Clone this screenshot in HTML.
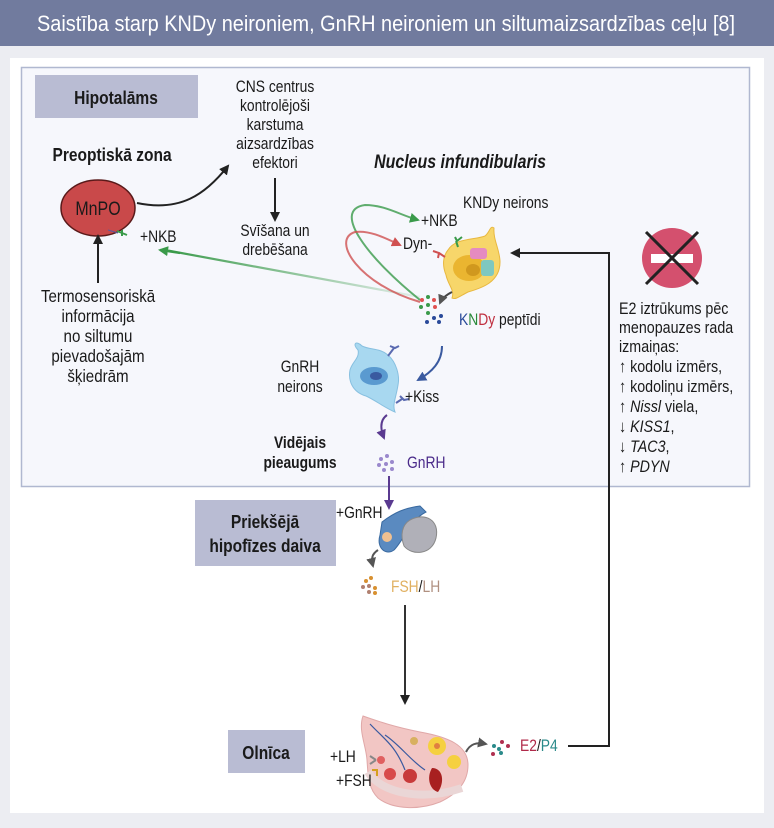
<!DOCTYPE html>
<html><head><meta charset="utf-8"><style>
html,body{margin:0;padding:0;background:#ecedf2;}
svg{display:block;}
text{font-family:"Liberation Sans",sans-serif;fill:#1a1a1a;transform-box:fill-box;transform:scaleX(.84);}
text.m{transform-origin:center;}
text.l{transform-origin:left;}
.b{font-weight:bold;}
</style></head><body>
<svg width="774" height="828" viewBox="0 0 774 828" xmlns="http://www.w3.org/2000/svg">
<defs>
<marker id="ak" markerWidth="10" markerHeight="10" refX="8" refY="5" orient="auto" markerUnits="userSpaceOnUse"><path d="M0,0 L10,5 L0,10 Z" fill="#222"/></marker>
<marker id="ag" markerWidth="10" markerHeight="10" refX="8" refY="5" orient="auto" markerUnits="userSpaceOnUse"><path d="M0,0 L10,5 L0,10 Z" fill="#3a9a4a"/></marker>
<marker id="ar" markerWidth="10" markerHeight="10" refX="8" refY="5" orient="auto" markerUnits="userSpaceOnUse"><path d="M0,0 L10,5 L0,10 Z" fill="#d05050"/></marker>
<marker id="ab" markerWidth="10" markerHeight="10" refX="8" refY="5" orient="auto" markerUnits="userSpaceOnUse"><path d="M0,0 L10,5 L0,10 Z" fill="#3a5aa0"/></marker>
<marker id="ap" markerWidth="10" markerHeight="10" refX="8" refY="5" orient="auto" markerUnits="userSpaceOnUse"><path d="M0,0 L10,5 L0,10 Z" fill="#5a3a90"/></marker>
<marker id="ay" markerWidth="10" markerHeight="10" refX="8" refY="5" orient="auto" markerUnits="userSpaceOnUse"><path d="M0,0 L10,5 L0,10 Z" fill="#555"/></marker>
<linearGradient id="gg" x1="1" x2="0"><stop offset="0" stop-color="#3a9a4a" stop-opacity="0.1"/><stop offset="1" stop-color="#3a9a4a"/></linearGradient>
</defs>
<rect x="0" y="0" width="774" height="46" fill="#717b9e"/>
<text class="m" x="386" y="31" font-size="22" text-anchor="middle" style="fill:#fff;transform:none" textLength="698" lengthAdjust="spacingAndGlyphs">Saistība starp KNDy neironiem, GnRH neironiem un siltumaizsardzības ceļu [8]</text>
<rect x="10" y="58" width="754" height="755" fill="#fff"/>
<rect x="21.5" y="67.5" width="728" height="419" fill="#f6f7fc" stroke="#b0b8d0" stroke-width="1.5"/>

<rect x="35" y="75" width="163" height="43" fill="#b9bcd3"/>
<text class="m b" x="116" y="104" font-size="18.5" text-anchor="middle">Hipotalāms</text>
<rect x="195" y="500" width="141" height="66" fill="#b9bcd3"/>
<text class="m b" x="265" y="528" font-size="18.5" text-anchor="middle">Priekšējā</text>
<text class="m b" x="265" y="552" font-size="18.5" text-anchor="middle">hipofīzes daiva</text>
<rect x="228" y="730" width="77" height="43" fill="#b9bcd3"/>
<text class="m b" x="266" y="759" font-size="18.5" text-anchor="middle">Olnīca</text>

<g font-size="16.5" text-anchor="middle">
<text class="m" x="275" y="92">CNS centrus</text>
<text class="m" x="275" y="111">kontrolējoši</text>
<text class="m" x="275" y="130">karstuma</text>
<text class="m" x="275" y="149">aizsardzības</text>
<text class="m" x="275" y="168">efektori</text>
<text class="m" x="275" y="236">Svīšana un</text>
<text class="m" x="275" y="255">drebēšana</text>
<text class="m" x="98" y="302" font-size="18">Termosensoriskā</text>
<text class="m" x="98" y="322" font-size="18">informācija</text>
<text class="m" x="98" y="342" font-size="18">no siltumu</text>
<text class="m" x="98" y="362" font-size="18">pievadošajām</text>
<text class="m" x="98" y="382" font-size="18">šķiedrām</text>
<text class="m" x="300" y="372">GnRH</text>
<text class="m" x="300" y="392">neirons</text>
</g>
<text class="m b" x="112" y="161" font-size="18.5" text-anchor="middle">Preoptiskā zona</text>
<text class="m b" x="460" y="168" font-size="19" font-style="italic" text-anchor="middle">Nucleus infundibularis</text>
<text class="m b" x="300" y="448" font-size="16.5" text-anchor="middle">Vidējais</text>
<text class="m b" x="300" y="468" font-size="16.5" text-anchor="middle">pieaugums</text>

<!-- MnPO -->
<ellipse cx="98" cy="208" rx="37" ry="28" fill="#c9494a" stroke="#5a1a1a" stroke-width="1.5"/>
<text class="m" x="98" y="215" font-size="19" text-anchor="middle">MnPO</text>
<path d="M137,203 C180,212 205,195 228,166" fill="none" stroke="#222" stroke-width="2" marker-end="url(#ak)"/>
<line x1="275" y1="178" x2="275" y2="220" stroke="#222" stroke-width="2" marker-end="url(#ak)"/>
<line x1="98" y1="283" x2="98" y2="236" stroke="#222" stroke-width="2" marker-end="url(#ak)"/>
<path d="M117,231 l10,4 M122,230 v6" stroke="#3a9a4a" stroke-width="2" fill="none"/>
<line x1="108" y1="230" x2="118" y2="233" stroke="#5a5aa0" stroke-width="1"/>
<text class="l" x="140" y="242" font-size="16.5">+NKB</text>
<path d="M420,297 L165,250" stroke="url(#gg)" stroke-width="2.2" fill="none"/>
<path d="M180,253 L160,250" stroke="#3a9a4a" stroke-width="2.2" marker-end="url(#ag)"/>

<!-- KNDy loops -->
<path d="M420,300 C370,260 330,210 365,205 C385,205 400,215 418,220" fill="none" stroke="#3a9a4a" stroke-width="2" stroke-opacity="0.8" marker-end="url(#ag)"/>
<path d="M420,302 C360,285 330,240 355,232 C370,230 385,238 400,245" fill="none" stroke="#d05050" stroke-width="2" stroke-opacity="0.8" marker-end="url(#ar)"/>
<text class="l" x="421" y="226" font-size="16.5">+NKB</text>
<text class="l" x="403" y="249" font-size="16.5">Dyn-</text>
<text class="l" x="463" y="208" font-size="16.5">KNDy neirons</text>
<!-- KNDy neuron -->
<path d="M448,250 C455,238 475,240 485,236 C490,232 490,225 494,228 C493,240 500,250 500,262 C500,282 482,288 468,292 C460,296 456,300 452,298 C455,290 448,285 446,275 C442,265 443,256 448,250 Z" fill="#f7d66a" stroke="#e8b840" stroke-width="1"/>
<ellipse cx="469" cy="268" rx="16" ry="13" fill="#eab530"/>
<ellipse cx="473" cy="270" rx="7" ry="6" fill="#d0981e"/>
<rect x="470" y="248" width="17" height="11" rx="3" fill="#e58bc0"/>
<rect x="481" y="260" width="13" height="16" rx="3" fill="#7fc8c0"/>
<path d="M458,247 l-2,-6 M455,237 l2,4 l5,-4" stroke="#3a9a4a" stroke-width="2" fill="none"/>
<path d="M445,257 l-6,-4 M433,251 l6,2 l-1,5" stroke="#d05050" stroke-width="2" fill="none"/>
<path d="M452,292 C446,295 442,298 440,303" fill="none" stroke="#444" stroke-width="2" marker-end="url(#ay)"/>
<g>
<circle cx="422" cy="300" r="2" fill="#e05050"/><circle cx="428" cy="297" r="2" fill="#3a9a4a"/><circle cx="434" cy="300" r="2" fill="#e05050"/>
<circle cx="421" cy="307" r="2" fill="#3a9a4a"/><circle cx="428" cy="305" r="2" fill="#3a9a4a"/><circle cx="435" cy="307" r="2" fill="#e05050"/>
<circle cx="428" cy="313" r="2" fill="#3a9a4a"/><circle cx="434" cy="318" r="2" fill="#2a4a9a"/><circle cx="441" cy="316" r="2" fill="#2a4a9a"/><circle cx="427" cy="322" r="2" fill="#2a4a9a"/><circle cx="439" cy="322" r="2" fill="#2a4a9a"/>
</g>
<text class="l" x="459" y="325" font-size="16.5"><tspan style="fill:#2a4a9a">K</tspan><tspan style="fill:#2a8a3a">N</tspan><tspan style="fill:#c03040">Dy</tspan> peptīdi</text>

<!-- GnRH neuron -->
<path d="M358,350 C352,344 356,340 362,346 C370,350 380,348 388,355 C396,362 400,375 398,385 C396,398 392,405 395,412 C385,408 375,400 366,396 C352,392 348,380 350,370 C352,362 360,358 358,350 Z" fill="#a8d8f0" stroke="#88c0e0"/>
<ellipse cx="374" cy="376" rx="14" ry="9" fill="#5a9ad0"/>
<ellipse cx="376" cy="376" rx="6" ry="4" fill="#3a5aa0"/>
<path d="M388,356 l6,-8 M390,346 l5,2 l4,-2" stroke="#5a6ab0" stroke-width="2" fill="none"/>
<path d="M396,403 l6,-4 M400,396 l4,4 l5,-1" stroke="#5a6ab0" stroke-width="2" fill="none"/>
<path d="M442,346 C442,362 432,372 418,380" fill="none" stroke="#3a5aa0" stroke-width="2" marker-end="url(#ab)"/>
<text class="l" x="405" y="402" font-size="16.5">+Kiss</text>
<path d="M387,415 C380,420 380,428 384,438" fill="none" stroke="#5a3a90" stroke-width="2" marker-end="url(#ap)"/>
<g fill="#9a88cc"><circle cx="381" cy="459" r="2"/><circle cx="387" cy="456" r="2"/><circle cx="379" cy="465" r="2"/><circle cx="386" cy="464" r="2"/><circle cx="392" cy="462" r="2"/><circle cx="384" cy="470" r="2"/><circle cx="392" cy="469" r="2"/></g>
<text class="l" x="407" y="468" font-size="16.5" style="fill:#4a2a8a">GnRH</text>
<line x1="389" y1="476" x2="389" y2="508" stroke="#5a3a90" stroke-width="2" marker-end="url(#ap)"/>
<text class="l" x="336" y="518" font-size="16.5">+GnRH</text>
<!-- pituitary -->
<path d="M382,522 C395,512 405,508 420,506 L426,512 C410,520 404,540 394,550 C386,556 376,548 380,535 Z" fill="#5a8ac0" stroke="#3a6aa0"/>
<path d="M410,520 C425,512 440,520 436,538 C432,555 412,556 404,546 C400,535 402,525 410,520 Z" fill="#b0b0b8" stroke="#888"/>
<circle cx="387" cy="537" r="5" fill="#f0c090"/>
<path d="M378,550 C372,554 371,558 373,566" fill="none" stroke="#555" stroke-width="2" marker-end="url(#ay)"/>
<g><circle cx="366" cy="581" r="2" fill="#d89030"/><circle cx="371" cy="578" r="2" fill="#d89030"/><circle cx="363" cy="587" r="2" fill="#b08070"/><circle cx="369" cy="586" r="2" fill="#b08070"/><circle cx="375" cy="588" r="2" fill="#d89030"/><circle cx="369" cy="592" r="2" fill="#b08070"/><circle cx="375" cy="593" r="2" fill="#d89030"/></g>
<text class="l" x="391" y="592" font-size="16.5"><tspan style="fill:#e0b060">FSH</tspan>/<tspan style="fill:#b09080">LH</tspan></text>
<line x1="405" y1="605" x2="405" y2="703" stroke="#333" stroke-width="2" marker-end="url(#ak)"/>

<!-- ovary -->
<path d="M363,716 C380,722 395,727 420,732 C448,737 468,745 468,765 C468,784 455,795 440,802 C420,810 393,810 378,798 C368,788 368,775 367,760 C366,745 358,730 363,716 Z" fill="#f2c6c4" stroke="#e0a8a8"/>
<path d="M368,772 C380,792 420,802 462,788" fill="none" stroke="#ead6d6" stroke-width="8"/>
<path d="M370,724 C385,740 395,745 405,770 M385,735 C400,745 410,760 425,770" stroke="#3a5aa0" stroke-width="1.2" fill="none"/>
<circle cx="437" cy="746" r="9" fill="#f5d040"/><circle cx="437" cy="746" r="3" fill="#e08040"/>
<circle cx="454" cy="762" r="7" fill="#f5d040"/>
<circle cx="414" cy="741" r="4" fill="#d8b060"/>
<circle cx="390" cy="774" r="6" fill="#d84a4a"/><circle cx="410" cy="776" r="7" fill="#c83a3a"/>
<path d="M432,768 C443,768 445,782 438,792 C430,790 426,778 432,768 Z" fill="#a82020"/>
<circle cx="381" cy="760" r="4" fill="#e06060"/>
<path d="M376,760 l-6,-4 M370,764 l6,-4" stroke="#888" stroke-width="2"/>
<path d="M372,770 h5 v6" stroke="#d4a020" stroke-width="2" fill="none"/>
<text class="l" x="330" y="762" font-size="16.5">+LH</text>
<text class="l" x="336" y="786" font-size="16.5">+FSH</text>
<path d="M466,752 C470,744 476,742 486,744" fill="none" stroke="#555" stroke-width="2" marker-end="url(#ay)"/>
<g><circle cx="494" cy="746" r="2" fill="#2a8a8a"/><circle cx="502" cy="742" r="2" fill="#b03050"/><circle cx="499" cy="749" r="2" fill="#2a8a8a"/><circle cx="508" cy="746" r="2" fill="#b03050"/><circle cx="493" cy="754" r="2" fill="#b03050"/><circle cx="501" cy="753" r="2" fill="#2a8a8a"/></g>
<text class="l" x="520" y="751" font-size="16.5"><tspan style="fill:#b02a4a">E2</tspan>/<tspan style="fill:#2a8a8a">P4</tspan></text>
<polyline points="568,746 609,746 609,253 512,253" fill="none" stroke="#222" stroke-width="2" marker-end="url(#ak)"/>

<!-- no-entry -->
<circle cx="672" cy="258" r="30" fill="#d4506e"/>
<rect x="651" y="254" width="42" height="9" fill="#fff"/>
<path d="M646,232 L698,284 M698,232 L646,284" stroke="#222" stroke-width="3"/>
<g font-size="17">
<text class="l" x="619" y="314">E2 iztrūkums pēc</text>
<text class="l" x="619" y="333">menopauzes rada</text>
<text class="l" x="619" y="352">izmaiņas:</text>
<text class="l" x="619" y="372">↑ kodolu izmērs,</text>
<text class="l" x="619" y="392">↑ kodoliņu izmērs,</text>
<text class="l" x="619" y="412">↑ <tspan font-style="italic">Nissl</tspan> viela,</text>
<text class="l" x="619" y="432">↓ <tspan font-style="italic">KISS1</tspan>,</text>
<text class="l" x="619" y="452">↓ <tspan font-style="italic">TAC3</tspan>,</text>
<text class="l" x="619" y="472">↑ <tspan font-style="italic">PDYN</tspan></text>
</g>
</svg>
</body></html>
